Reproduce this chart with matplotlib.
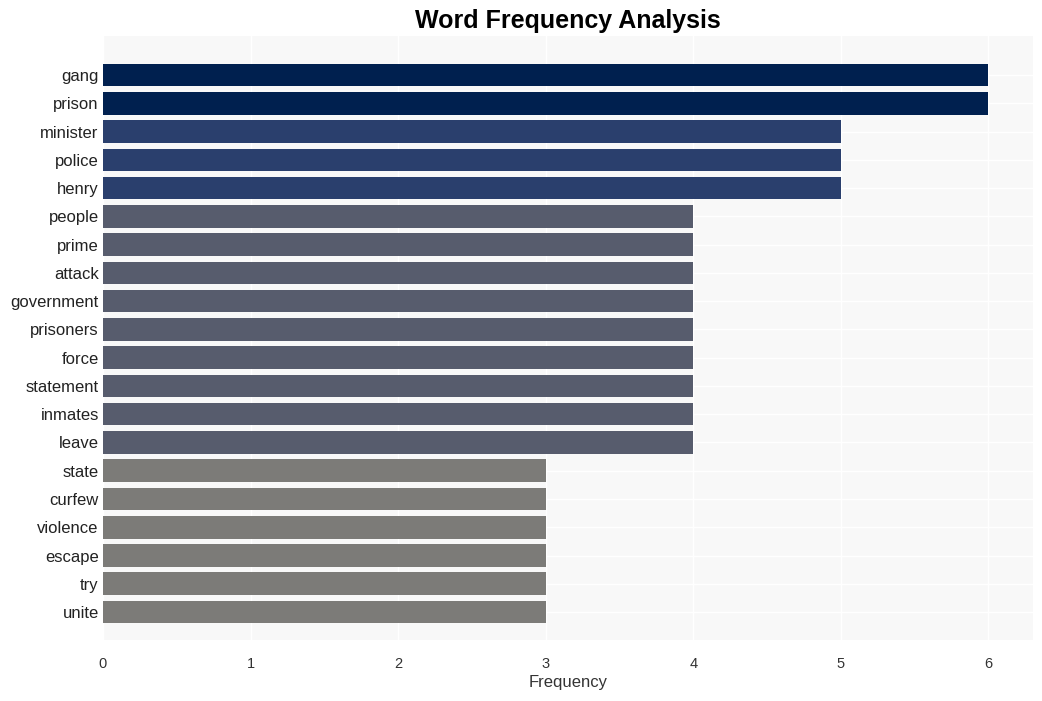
import matplotlib
matplotlib.use("Agg")
import matplotlib.pyplot as plt

plt.rcParams['font.family'] = ['Liberation Sans', 'DejaVu Sans']

palavras = ["gang", "prison", "minister", "police", "henry", "people", "prime",
            "attack", "government", "prisoners", "force", "statement", "inmates",
            "leave", "state", "curfew", "violence", "escape", "try", "unite"]
frequencias = [6, 6, 5, 5, 5, 4, 4, 4, 4, 4, 4, 4, 4, 4, 3, 3, 3, 3, 3, 3]

# cores por valor
cores_valor = {6: "#00204f", 5: "#2a3f6d", 4: "#575c6d", 3: "#7c7b78"}
cores = [cores_valor[v] for v in frequencias]

fig = plt.figure(figsize=(10.42, 7.01), dpi=100)
ax = fig.add_axes([0.0988, 0.087, 0.8922, 0.8616])
ax.set_facecolor("#f8f8f8")

pos = list(range(len(palavras)))
ax.barh(pos, frequencias, height=0.8, color=cores, zorder=3)
ax.set_yticks(pos)
ax.set_yticklabels(palavras, fontsize=12, color="#222222")
ax.set_ylim(len(palavras) - 0.01, -1.38)
ax.set_xlim(0, 6.3)
ax.set_xticks(range(7))
ax.tick_params(axis='x', labelsize=10.5, colors="#333333", length=0, pad=12)
ax.tick_params(axis='y', length=0, pad=3)

ax.grid(True, color="white", linewidth=1, zorder=0)
ax.set_axisbelow(True)
for s in ax.spines.values():
    s.set_visible(False)

ax.set_xlabel("Frequency", fontsize=12, color="#333333", labelpad=3)
fig.suptitle("Word Frequency Analysis", fontsize=18, fontweight="bold", x=0.545, y=0.987)

fig.savefig("out.png", dpi=100)
